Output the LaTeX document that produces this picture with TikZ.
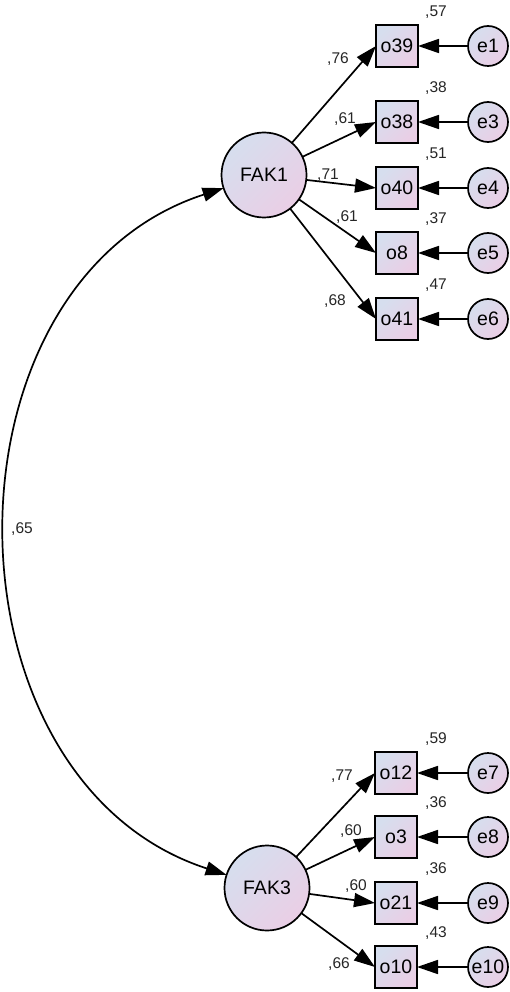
\documentclass[tikz,border=0pt]{standalone}
\usepackage{fontspec}
\setmainfont{Liberation Sans}
\usetikzlibrary{arrows.meta}
\definecolor{gA}{RGB}{214,222,238}
\definecolor{gB}{RGB}{234,206,229}
\begin{document}
\begin{tikzpicture}[x=1pt,y=1pt,
  every node/.style={inner sep=0pt, outer sep=0pt},
  shaded/.style={draw=black, line width=1.7pt, top color=gA, bottom color=gB, shading angle=45},
  latent/.style={shaded, circle, minimum size=85pt, font=\fontsize{19.5}{20}\selectfont},
  obs/.style={shaded, rectangle, minimum size=42pt, font=\fontsize{19.5}{20}\selectfont},
  err/.style={shaded, circle, minimum size=40pt, font=\fontsize{19.5}{20}\selectfont},
  lab/.style={font=\fontsize{15.5}{16}\selectfont, text=black!85},
  tip/.tip={Triangle[length=21pt,width=14pt]},
  arr/.style={draw, line width=1.7pt, -tip},
]
\useasboundingbox (0,0) rectangle (510,-992);

% latent variables
\node[latent] (FAK1) at (264,-175) {FAK1};
\node[latent] (FAK3) at (267,-888) {FAK3};

% observed variables (top)
\node[obs] (o39) at (397,-46) {o39};
\node[obs] (o38) at (397,-122) {o38};
\node[obs] (o40) at (397,-188) {o40};
\node[obs] (o8)  at (397,-253) {o8};
\node[obs] (o41) at (397,-319) {o41};
% observed variables (bottom)
\node[obs] (o12) at (396,-773) {o12};
\node[obs] (o3)  at (396,-837) {o3};
\node[obs] (o21) at (396,-903) {o21};
\node[obs] (o10) at (396,-967) {o10};

% errors
\node[err] (e1)  at (488,-46) {e1};
\node[err] (e3)  at (488,-122) {e3};
\node[err] (e4)  at (488,-188) {e4};
\node[err] (e5)  at (488,-253) {e5};
\node[err] (e6)  at (488,-319) {e6};
\node[err] (e7)  at (488,-773) {e7};
\node[err] (e8)  at (488,-837) {e8};
\node[err] (e9)  at (488,-903) {e9};
\node[err] (e10) at (488,-967) {e10};

% loadings
\draw[arr] (FAK1) -- (o39.west);
\draw[arr] (FAK1) -- (o38.west);
\draw[arr] (FAK1) -- (o40.west);
\draw[arr] (FAK1) -- (o8.west);
\draw[arr] (FAK1) -- (o41.west);
\draw[arr] (FAK3) -- (o12.west);
\draw[arr] (FAK3) -- (o3.west);
\draw[arr] (FAK3) -- (o21.west);
\draw[arr] (FAK3) -- (o10.west);

% error paths
\draw[arr] (e1) -- (o39.east);
\draw[arr] (e3) -- (o38.east);
\draw[arr] (e4) -- (o40.east);
\draw[arr] (e5) -- (o8.east);
\draw[arr] (e6) -- (o41.east);
\draw[arr] (e7) -- (o12.east);
\draw[arr] (e8) -- (o3.east);
\draw[arr] (e9) -- (o21.east);
\draw[arr] (e10) -- (o10.east);

% covariance
\draw[line width=1.7pt, tip-tip] (FAK1) .. controls (-67,-282.5) and (-64,-780.5) .. (FAK3);
\node[lab] (c65) at (22,-529) {,65};

% loading labels
\node[lab] (l76) at (338,-59) {,76};
\node[lab] (l61a) at (345,-119) {,61};
\node[lab] (l71) at (328,-175) {,71};
\node[lab] (l61b) at (347,-217) {,61};
\node[lab] (l68) at (335,-301) {,68};
\node[lab] (l77) at (342,-776) {,77};
\node[lab] (l60a) at (351,-831) {,60};
\node[lab] (l60b) at (356,-886) {,60};
\node[lab] (l66) at (339,-964) {,66};

% R squared labels
\node[lab] (r39) at (436,-12) {,57};
\node[lab] (r38) at (436,-88) {,38};
\node[lab] (r40) at (436,-154) {,51};
\node[lab] (r8)  at (436,-219) {,37};
\node[lab] (r41) at (436,-285) {,47};
\node[lab] (r12) at (436,-739) {,59};
\node[lab] (r3)  at (436,-803) {,36};
\node[lab] (r21) at (436,-869) {,36};
\node[lab] (r10) at (436,-933) {,43};
\end{tikzpicture}
\end{document}
